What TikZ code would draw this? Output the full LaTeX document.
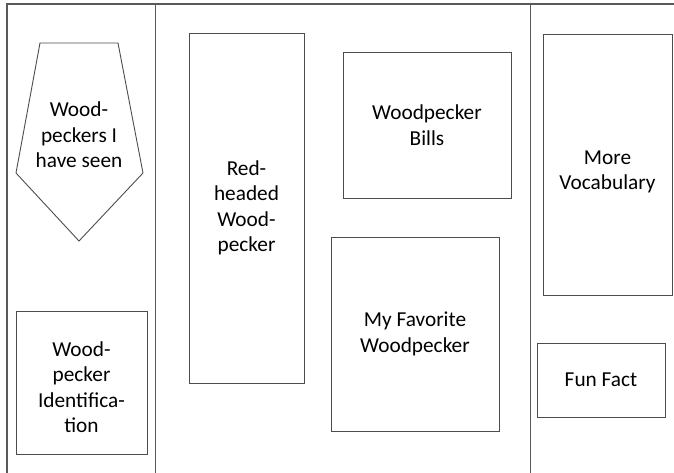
\documentclass[tikz,border=0pt]{standalone}
\usepackage{fontspec}
\setmainfont{Carlito}
\begin{document}
\begin{tikzpicture}[x=1pt,y=-1pt,
  frameline/.style={draw=black!65,line width=1.1pt},
  boxline/.style={draw=black!70,line width=0.9pt},
  panel/.style={boxline,rectangle,inner sep=0pt,align=center,font=\fontsize{21.3}{25.5}\selectfont},
  lbl/.style={align=center,inner sep=0pt,font=\fontsize{21.3}{25.5}\selectfont}]
\useasboundingbox (0,0) rectangle (674,473);
% frame
\coordinate (tl) at (7,4);
\coordinate (tr) at (674,4);
\coordinate (bl) at (7,473);
\coordinate (s1t) at (155.5,4);
\coordinate (s1b) at (155.5,473);
\coordinate (s2t) at (530.5,4);
\coordinate (s2b) at (530.5,473);
\draw[frameline] (bl) -- (tl) -- (tr);
\draw[frameline] (s1t) -- (s1b);
\draw[frameline] (s2t) -- (s2b);
% pentagon
\coordinate (p1) at (40,43);
\coordinate (p2) at (118,43);
\coordinate (p3) at (143,173);
\coordinate (p4) at (79,241);
\coordinate (p5) at (16,173);
\draw[boxline] (p1) -- (p2) -- (p3) -- (p4) -- (p5) -- cycle;
\node[lbl] (seen) at (79,135) {Wood-\\peckers I\\have seen};
% boxes
\node[panel,minimum width=131,minimum height=143] (ident) at (81.5,382.5) {};
\node[lbl] (identt) at (81.5,387) {Wood-\\pecker\\Identifica-\\tion};
\node[panel,minimum width=115,minimum height=350] (red) at (246.5,208) {Red-\\headed\\Wood-\\pecker};
\node[panel,minimum width=168,minimum height=146] (bills) at (427,125) {Woodpecker\\Bills};
\node[panel,minimum width=168,minimum height=194] (fav) at (415,334) {My Favorite\\Woodpecker};
\node[panel,minimum width=129,minimum height=261] (vocab) at (607.5,164.5) {};
\node[lbl] (vocabt) at (607.5,172) {More\\Vocabulary};
\node[panel,minimum width=128,minimum height=74] (fun) at (601,380) {Fun Fact};
\end{tikzpicture}
\end{document}
